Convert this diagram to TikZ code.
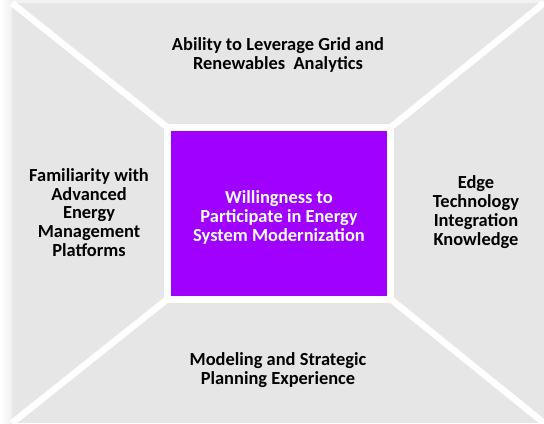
\documentclass[tikz,border=0pt]{standalone}
\usepackage{fontspec}
\setmainfont{Carlito}
\usepackage{xcolor}
\definecolor{framegray}{RGB}{231,230,230}
\definecolor{corepurple}{RGB}{160,0,255}
\usetikzlibrary{calc}

\tikzset{
  factor/.style={align=center,inner sep=0pt,text=black,
    font=\bfseries\fontsize{18.5}{18.8}\selectfont},
  core/.style={rectangle,fill=corepurple,draw=white,line width=7bp,
    outer sep=0pt,inner sep=0pt,minimum width=223bp,minimum height=171.5bp},
  coretext/.style={factor,text=white}
}

\tikzset{divider/.style={draw=white,line width=6.5bp}}

\begin{document}
\begin{tikzpicture}[line join=miter,x=1bp,y=-1bp]
    \useasboundingbox (0,0) rectangle (544,423);
    % soft shadow round the frame
    \shade [left color=white,right color=black!6] (0,0) rectangle (12,423);
    \fill [black!5] (12,0) rectangle (544,3);
    % frame
    \fill [framegray] (12,3) rectangle (544,423);
    \coordinate (tl) at (12,3);
    \coordinate (tr) at (544,3);
    \coordinate (bl) at (12,423);
    \coordinate (br) at (544,423);
    % centre
    \node [core] (core) at (279,213.25) {};
    \node [coretext] (willing) at (279,217.5) {Willingness to\\Participate in Energy\\System Modernization};
    \draw [divider] (tl) -- (core.north west);
    \draw [divider] (tr) -- (core.north east);
    \draw [divider] (bl) -- (core.south west);
    \draw [divider] (br) -- (core.south east);
    % factors
    \node [factor] (grid) at (278,55) {Ability to Leverage Grid and\\Renewables~ Analytics};
    \node [factor] (platform) at (89,212.5) {Familiarity with\\Advanced\\Energy\\Management\\Platforms};
    \node [factor] (edge) at (476,212) {Edge\\Technology\\Integration\\Knowledge};
    \node [factor] (model) at (278,370) {Modeling and Strategic\\Planning Experience};
\end{tikzpicture}
\end{document}
